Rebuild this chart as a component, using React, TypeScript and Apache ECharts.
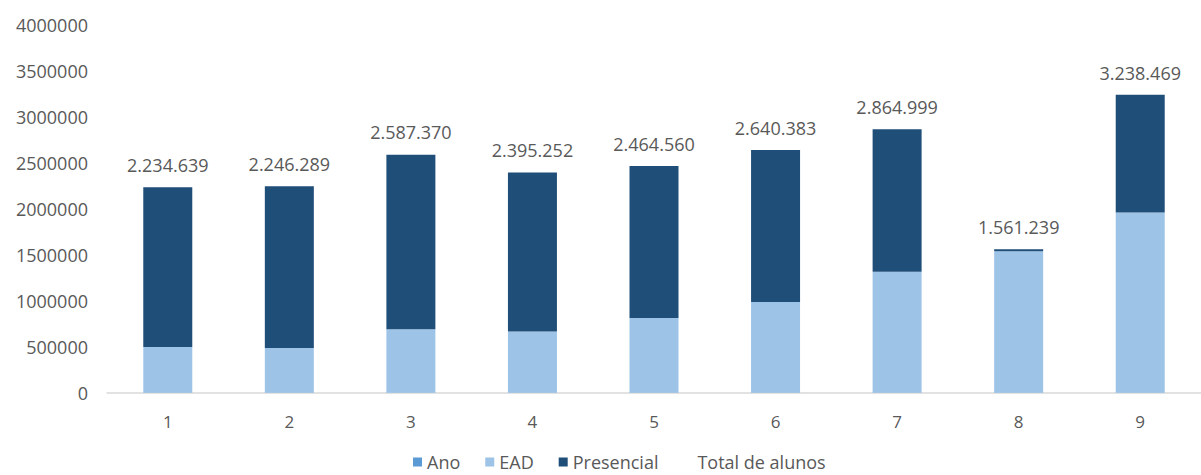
import React, { useEffect, useRef } from "react";
import * as echarts from "echarts";

const categories = ["1", "2", "3", "4", "5", "6", "7", "8", "9"];
const ano = [2010, 2011, 2012, 2013, 2014, 2015, 2016, 2017, 2018];
const ead = [497000, 486000, 692000, 666000, 812000, 986000, 1315000, 1540000, 1960000];
const presencial = [1737600, 1760300, 1895400, 1729300, 1652600, 1654400, 1550000, 21200, 1278500];
const totalAlunos = [2234639, 2246289, 2587370, 2395252, 2464560, 2640383, 2864999, 1561239, 3238469];
const yTicks = { min: 0, max: 4000000, interval: 500000 };

const FONT = "'Open Sans', sans-serif";
const TEXT = "#595959";

function fmt(v: number): string {
  return String(v).replace(/\B(?=(\d{3})+(?!\d))/g, ".");
}

export default function App() {
  const ref = useRef<HTMLDivElement>(null);
  useEffect(() => {
    if (!ref.current) return;
    const chart = echarts.init(ref.current, undefined, { renderer: "svg" });
    chart.setOption({
      animation: false,
      backgroundColor: "#ffffff",
      textStyle: { fontFamily: FONT },
      grid: { left: 107, right: -10, top: 25, bottom: 82, containLabel: false },
      legend: {
        left: 408,
        top: 448,
        padding: [5, 5, 0, 5],
        itemWidth: 9,
        itemHeight: 9,
        itemGap: 25,
        icon: "rect",
        textStyle: { color: TEXT, fontSize: 18, lineHeight: 18, fontFamily: FONT },
        data: [
          { name: "Ano" },
          { name: "EAD" },
          { name: "Presencial" },
          { name: "Total de alunos", itemStyle: { color: "rgba(0,0,0,0)" } },
        ],
      },
      xAxis: {
        type: "category",
        data: categories,
        axisLine: { show: true, lineStyle: { color: "#d9d9d9", width: 1.5 } },
        axisTick: { show: false },
        axisLabel: { color: TEXT, fontSize: 17, margin: 20, fontFamily: FONT },
      },
      yAxis: {
        type: "value",
        min: yTicks.min,
        max: yTicks.max,
        interval: yTicks.interval,
        splitLine: { show: false },
        axisLine: { show: false },
        axisTick: { show: false },
        axisLabel: {
          color: TEXT,
          fontSize: 18,
          margin: 19,
          fontFamily: FONT,
          formatter: (v: number) => String(v),
        },
      },
      series: [
        {
          name: "Ano",
          type: "bar",
          stack: "s",
          barWidth: 49,
          data: ano,
          itemStyle: { color: "#5b9bd5" },
        },
        {
          name: "EAD",
          type: "bar",
          stack: "s",
          barWidth: 49,
          data: ead,
          itemStyle: { color: "#9dc3e6" },
        },
        {
          name: "Presencial",
          type: "bar",
          stack: "s",
          barWidth: 49,
          data: presencial,
          itemStyle: { color: "#1f4e79" },
        },
        {
          name: "Total de alunos",
          type: "line",
          data: totalAlunos,
          symbol: "circle",
          symbolSize: 1,
          showSymbol: true,
          lineStyle: { width: 0, opacity: 0 },
          itemStyle: { color: "rgba(0,0,0,0)" },
          label: {
            show: true,
            position: "top",
            distance: 13,
            color: TEXT,
            fontSize: 18,
            fontFamily: FONT,
            formatter: (p: any) => fmt(p.value),
          },
        },
      ],
    });
    return () => chart.dispose();
  }, []);
  return (
    <div
      ref={ref}
      style={{ position: "fixed", left: 0, top: 0, width: 1201, height: 475, background: "#fff" }}
    />
  );
}
